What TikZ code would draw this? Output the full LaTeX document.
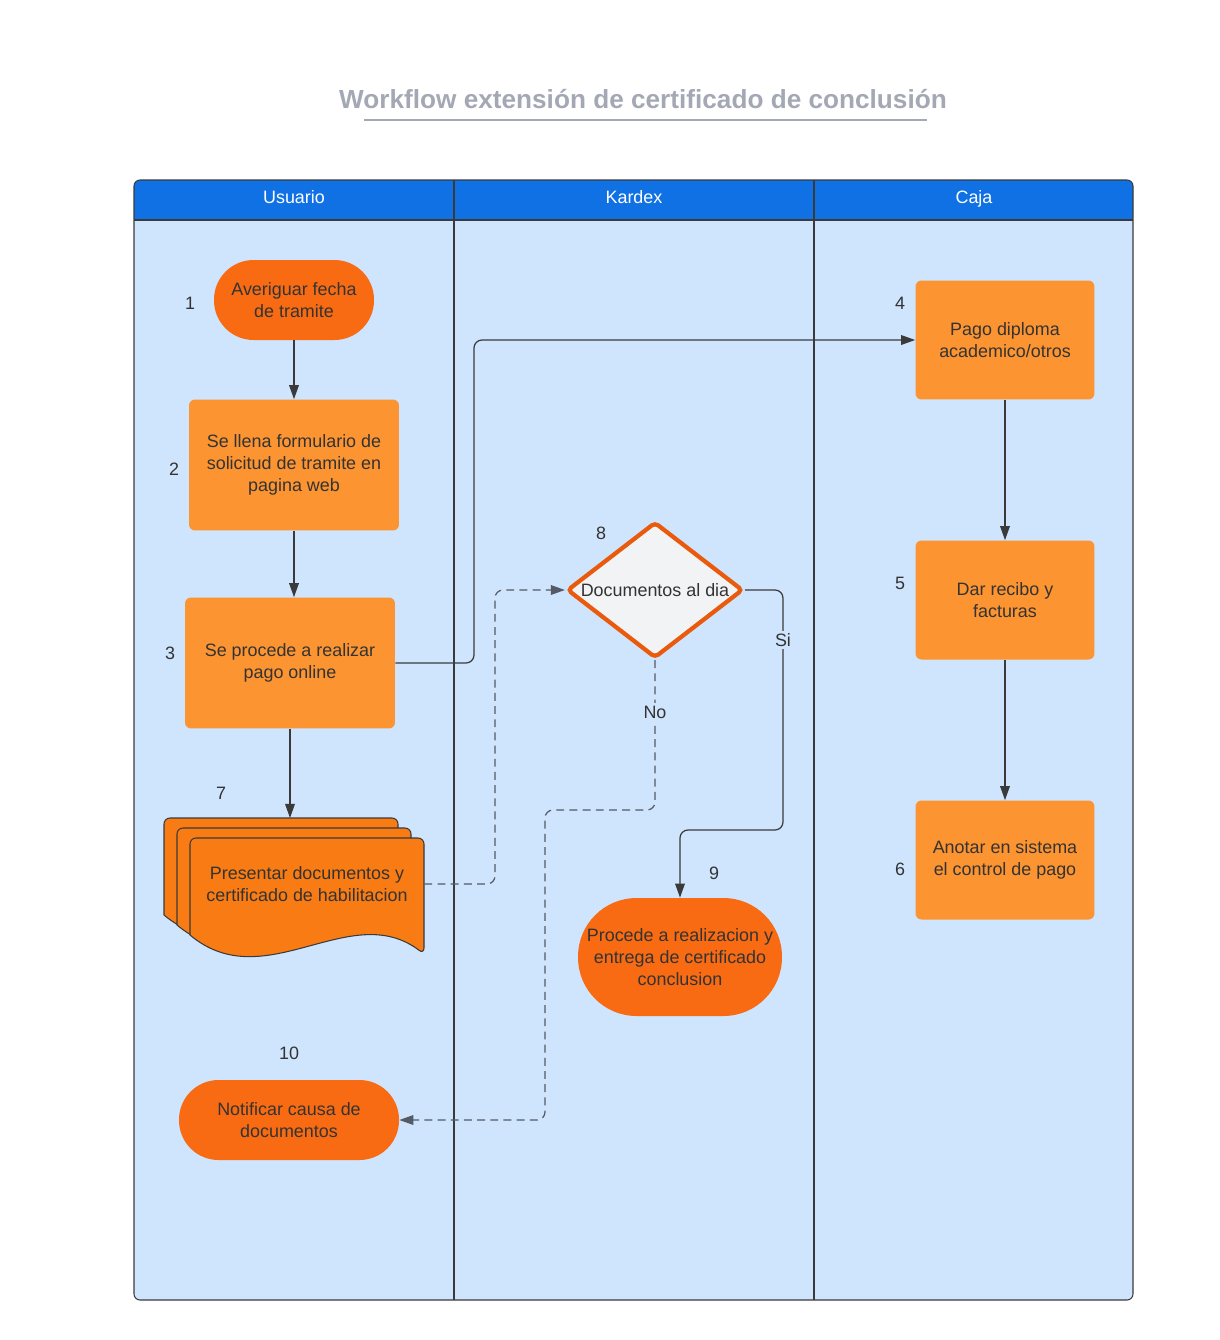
\documentclass[tikz,border=0pt]{standalone}
\usepackage{fontspec}
\setmainfont{Liberation Sans}
\usetikzlibrary{arrows.meta,shapes.geometric}
\definecolor{txtgray}{HTML}{333333}
\definecolor{titlegray}{HTML}{A3A8B4}
\definecolor{headblue}{HTML}{1071E5}
\definecolor{lanefill}{HTML}{CFE4FD}
\definecolor{termorange}{HTML}{F96B13}
\definecolor{procorange}{HTML}{FC9431}
\definecolor{pageorange}{HTML}{F97B13}
\definecolor{decborder}{HTML}{E95A0C}
\definecolor{decfill}{HTML}{F2F3F5}
\definecolor{linegray}{HTML}{3A3A3A}
\definecolor{dashgray}{HTML}{555A64}
\tikzset{
    every node/.style={align=center, text=txtgray, font=\fontsize{10.2}{12.4}\selectfont,},
    terminal/.style={rectangle, fill=termorange, minimum height=1.6cm, rounded corners=0.79cm,},
    process/.style={rectangle, fill=procorange, rounded corners=0.12cm,},
    decision/.style={diamond, draw=decborder, fill=decfill, line width=2.4pt, rounded corners=0.08cm, shape aspect=1.3, minimum width=3.52cm, minimum height=2.72cm, inner sep=0pt,},
    page/.style={draw=linegray, fill=pageorange, line width=0.6pt,},
    lanehead/.style={text=white, anchor=base,},
    lbl/.style={fill=lanefill, inner sep=1.5pt,},
    flow/.style={draw=linegray, line width=0.7pt, rounded corners=0.16cm, -{Triangle[length=8pt,width=5.5pt]},},
    dflow/.style={flow, draw=dashgray, dash pattern=on 4.5pt off 3pt,},
}

\begin{document}
\begin{tikzpicture}[x=0.02cm, y=-0.02cm]
        \useasboundingbox (0,0) rectangle (1220,1340);

        \node[font=\bfseries\fontsize{14.9}{17}\selectfont, text=titlegray] (title) at (643,99) {Workflow extensión de certificado de conclusión};
        \draw[titlegray, line width=1.1pt] (364,120) -- (927,120);

        % pool with three lanes
        \fill[lanefill, rounded corners=0.12cm] (134,180) rectangle (1133,1300);
        \fill[headblue, rounded corners=0.12cm] (134,180) rectangle (1133,220);
        \fill[headblue] (134,200) rectangle (1133,220);
        \draw[linegray, line width=0.6pt, rounded corners=0.12cm] (134,180) rectangle (1133,1300);
        \draw[linegray, line width=0.6pt] (134,220) -- (1133,220);
        \draw[linegray, line width=0.6pt] (454,180) -- (454,1300);
        \draw[linegray, line width=0.6pt] (814,180) -- (814,1300);

        \node[lanehead] (usuario) at (294,203) {Usuario};
        \node[lanehead] (kardex) at (634,203) {Kardex};
        \node[lanehead] (caja) at (974,203) {Caja};

        \node[terminal, minimum width=3.2cm] (averiguar) at (294,300) {Averiguar fecha\\de tramite};
        \node[process, minimum width=4.2cm, minimum height=2.62cm] (formulario) at (294,465) {Se llena formulario de\\solicitud de tramite en\\pagina web};
        \node[process, minimum width=4.2cm, minimum height=2.62cm] (pago_online) at (290,663) {Se procede a realizar\\pago online};

        \draw[page, shift={(164,818)}] (0,97) [rounded corners=0.12cm] -- (0,0) -- (234,0) -- (234,116) [sharp corners] .. controls (160,60) and (75,160) .. (0,97) -- cycle;
        \draw[page, shift={(177,828)}] (0,97) [rounded corners=0.12cm] -- (0,0) -- (234,0) -- (234,116) [sharp corners] .. controls (160,60) and (75,160) .. (0,97) -- cycle;
        \draw[page, shift={(190,838)}] (0,97) [rounded corners=0.12cm] -- (0,0) -- (234,0) -- (234,116) [sharp corners] .. controls (160,60) and (75,160) .. (0,97) -- cycle;
        \node[minimum width=4.68cm] (presentar) at (307,884) {Presentar documentos y\\certificado de habilitacion};

        \node[terminal, minimum width=4.4cm] (notificar) at (289,1120) {Notificar causa de\\documentos};

        \node[decision] (docs_al_dia) at (655,590) {Documentos al dia};
        \node[terminal, minimum width=4.08cm, minimum height=2.36cm, rounded corners=1.17cm] (procede) at (680,957) {Procede a realizacion y\\entrega de certificado\\conclusion};

        \node[process, minimum width=3.58cm, minimum height=2.38cm] (pago_diploma) at (1005,340) {Pago diploma\\academico/otros};
        \node[process, minimum width=3.58cm, minimum height=2.38cm] (recibo) at (1005,600) {Dar recibo y\\facturas};
        \node[process, minimum width=3.58cm, minimum height=2.38cm] (anotar) at (1005,860) {Anotar en sistema\\el control de pago};

        \node (n1) at (190,303) {1};
        \node (n2) at (174,469) {2};
        \node (n3) at (170,653) {3};
        \node (n4) at (900,303) {4};
        \node (n5) at (900,583) {5};
        \node (n6) at (900,869) {6};
        \node (n7) at (221,793) {7};
        \node (n8) at (601,533) {8};
        \node (n9) at (714,873) {9};
        \node (n10) at (289,1053) {10};

        \coordinate (docs_top) at (290,818);
        \coordinate (to_caja) at (474,340);
        \coordinate (to_kardex) at (495,590);
        \coordinate (si_turn) at (783,830);
        \coordinate (no_turn) at (545,810);

        \draw[flow] (averiguar) to (formulario);
        \draw[flow] (formulario.south) to (formulario.south |- pago_online.north);
        \draw[flow] (pago_online.south) to (docs_top);
        \draw[flow] (pago_online.east) -| (to_caja) -- (pago_diploma.west);
        \draw[flow] (pago_diploma) to (recibo);
        \draw[flow] (recibo) to (anotar);
        \draw[dflow] (presentar.east) -| (to_kardex) -- (docs_al_dia.west);
        \draw[flow] (docs_al_dia.east) -| (si_turn) -| (procede.north);
        \draw[dflow] (docs_al_dia.south) |- (no_turn) |- (notificar.east);

        \node[lbl] (si) at (783,640) {Si};
        \node[lbl] (no) at (655,712) {No};
    \end{tikzpicture}
\end{document}
